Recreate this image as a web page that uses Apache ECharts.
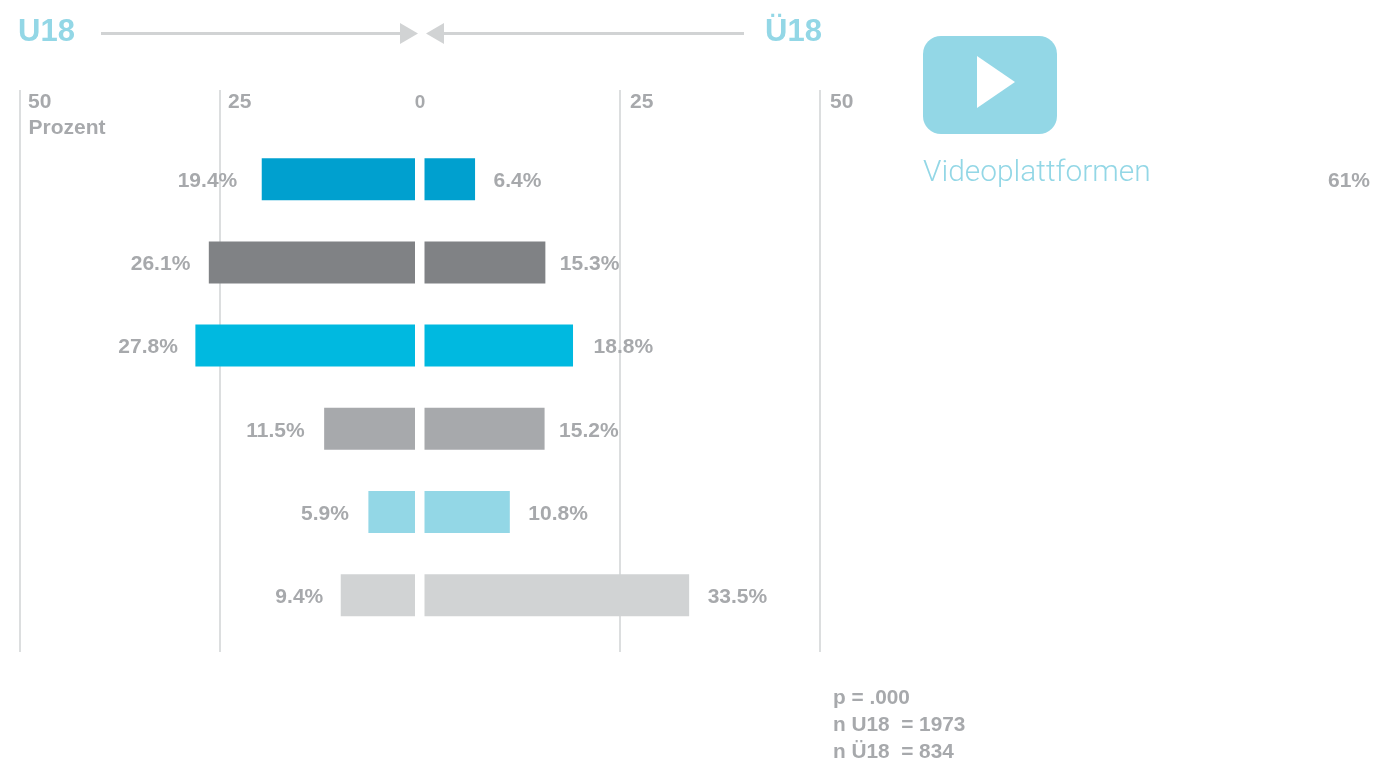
<!DOCTYPE html>
<html>
<head>
<meta charset="utf-8">
<title>Videoplattformen U18 / Ü18</title>
<script src="https://cdn.jsdelivr.net/npm/echarts@6/dist/echarts.min.js"></script>
<style>
  html, body { margin: 0; padding: 0; background: #fff; }
  #chart { width: 1373px; height: 764px; }
</style>
</head>
<body>
<div id="chart"></div>
<script>
const categories = ['a', 'b', 'c', 'd', 'e', 'f']
const u18Values = [19.4, 26.1, 27.8, 11.5, 5.9, 9.4]
const ue18Values = [6.4, 15.3, 18.8, 15.2, 10.8, 33.5]
const barColors = ['#00a0cf', '#808285', '#00b9e0', '#a7a9ac', '#93d7e6', '#d1d3d4']
const u18LabelGaps = [24, 18, 17, 19, 19, 17]
const ue18LabelGaps = [18, 14, 20, 14, 18, 18]
const axisTicks = [0, 25, 50]
const statLines = ['p = .000', 'n U18  = 1973', 'n Ü18  = 834']
const otherShare = '61%'

const grey = '#a7a9ac'
const lineGrey = '#d1d3d4'
const lightBlue = '#93d7e6'
const fontFamily = '"Liberation Sans", Arial, sans-serif'

const chart = echarts.init(document.getElementById('chart'))

const tickAxis = (gridIndex, inverse, labelPad, extra) => ({
  type: 'value',
  gridIndex,
  inverse,
  position: 'top',
  min: axisTicks[0],
  max: axisTicks[2],
  interval: axisTicks[1],
  axisLine: { show: false },
  axisTick: { show: false },
  splitLine: { show: true, showMinLine: false, lineStyle: { color: lineGrey, width: 1.5 } },
  axisLabel: {
    inside: true,
    margin: 2,
    align: 'left',
    padding: [0, 0, 0, labelPad],
    showMinLabel: false,
    color: grey,
    fontSize: 21,
    fontWeight: 'bold',
    fontFamily,
  },
  ...extra,
})

const barAxis = (gridIndex, inverse) => ({
  type: 'value',
  gridIndex,
  inverse,
  min: 0,
  max: 50,
  show: false,
})

const catAxis = (gridIndex) => ({
  type: 'category',
  gridIndex,
  data: categories,
  inverse: true,
  show: false,
})

const barSeries = (axisIndex, values, gaps, position, offsetX) => ({
  type: 'bar',
  xAxisIndex: axisIndex,
  yAxisIndex: axisIndex,
  barWidth: 42,
  z: 3,
  data: values.map((v, i) => ({
    value: v,
    itemStyle: { color: barColors[i] },
    label: { distance: gaps[i] },
  })),
  label: {
    show: true,
    position,
    formatter: '{c}%',
    color: grey,
    fontSize: 21,
    fontWeight: 'bold',
    fontFamily,
    offset: [offsetX, 2],
  },
})

const label = (x, y, text, fontSize, color, fontWeight, family) => ({
  type: 'text',
  x,
  y,
  style: {
    text,
    fontSize,
    fontWeight,
    fontFamily: family || fontFamily,
    fill: color,
    verticalAlign: 'middle',
  },
})

const option = {
  animation: false,
  backgroundColor: '#fff',
  grid: [
    // grids 0/1 only carry the ticks and the vertical lines
    { left: 20, width: 400, top: 90, height: 562 },
    { left: 420, width: 400, top: 90, height: 562 },
    // grids 2/3 carry the bars
    { left: 20, width: 395, top: 137.6, height: 499.2 },
    { left: 424.5, width: 395, top: 137.6, height: 499.2 },
  ],
  xAxis: [
    tickAxis(0, true, 8),
    tickAxis(1, false, 10),
    barAxis(2, true),
    barAxis(3, false),
    // only the centred 0 label
    tickAxis(0, true, 0, {
      interval: axisTicks[2],
      splitLine: { show: false },
      axisLabel: {
        inside: true,
        margin: 3,
        align: 'center',
        showMaxLabel: false,
        color: grey,
        fontSize: 19,
        fontWeight: 'bold',
        fontFamily,
      },
    }),
  ],
  yAxis: [
    { type: 'value', gridIndex: 0, show: false },
    { type: 'value', gridIndex: 1, show: false },
    catAxis(2),
    catAxis(3),
  ],
  series: [
    barSeries(2, u18Values, u18LabelGaps, 'left', -0.5),
    barSeries(3, ue18Values, ue18LabelGaps, 'right', 0.5),
  ],
  graphic: [
    label(18, 32, 'U18', 31, lightBlue, 'bold'),
    label(765, 32, 'Ü18', 31, lightBlue, 'bold'),
    label(28.5, 128, 'Prozent', 21, grey, 'bold'),
    label(1328, 181, otherShare, 21, grey, 'bold'),
    label(923, 174, 'Videoplattformen', 29.9, lightBlue, 300, 'Roboto'),
    ...statLines.map((t, i) => label(833, 698 + i * 27, t, 20.8, grey, 'bold')),
    // arrows
    { type: 'rect', shape: { x: 101, y: 32, width: 300, height: 3 }, style: { fill: lineGrey } },
    { type: 'polygon', shape: { points: [[400, 23], [418, 33.5], [400, 44]] }, style: { fill: lineGrey } },
    { type: 'rect', shape: { x: 443, y: 32, width: 301, height: 3 }, style: { fill: lineGrey } },
    { type: 'polygon', shape: { points: [[444, 23], [426, 33.5], [444, 44]] }, style: { fill: lineGrey } },
    // play button
    { type: 'rect', shape: { x: 923, y: 36, width: 134, height: 98, r: 18 }, style: { fill: lightBlue } },
    { type: 'polygon', shape: { points: [[977, 56], [1015, 82], [977, 108]] }, style: { fill: '#fff' } },
  ],
}

chart.setOption(option)
</script>
</body>
</html>
